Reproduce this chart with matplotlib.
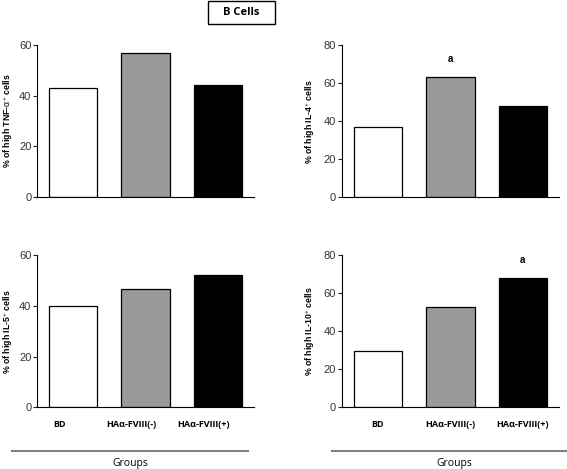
import numpy as np
import matplotlib.pyplot as plt
import matplotlib.transforms as mtransforms
from matplotlib.patches import Rectangle

groups = ["BD", "HA\u03b1-FVIII(-)", "HA\u03b1-FVIII(+)"]
colors = ["white", "#9a9a9a", "black"]

tnf = [43.1, 56.7, 44.1]
il4 = [36.8, 63.3, 48.1]
il5 = [39.8, 46.6, 52.0]
il10 = [29.8, 52.9, 67.8]

ylabels = [r"% of high TNF-$\alpha^{+}$ cells", r"% of high IL-4$^{+}$ cells",
           r"% of high IL-5$^{+}$ cells", r"% of high IL-10$^{+}$ cells"]
ymax = [60, 80, 60, 80]
# significance marks: (panel, bar index)
sig = {1: 1, 3: 2}

plt.rcParams['font.family'] = ['Liberation Sans', 'DejaVu Sans']
plt.rcParams['mathtext.fontset'] = 'custom'
plt.rcParams['mathtext.rm'] = 'Liberation Sans'
plt.rcParams['mathtext.it'] = 'Liberation Sans'
plt.rcParams['mathtext.bf'] = 'Liberation Sans:bold'

fig = plt.figure(figsize=(5.67, 4.69), dpi=100)

W, H = 567.0, 469.0
boxes = [(37, 197, 254, 45), (341.7, 197.3, 559, 45),
         (37, 407.3, 254, 255), (341.7, 407.3, 559, 255)]
data = [tnf, il4, il5, il10]

x = np.arange(len(groups))
for i, (l, b, r, t) in enumerate(boxes):
    ax = fig.add_axes([l / W, 1 - b / H, (r - l) / W, (b - t) / H])
    ax.bar(x, data[i], width=0.667, color=colors, edgecolor="black", linewidth=0.9)
    ax.set_xlim(-0.5, 2.5)
    ax.set_ylim(0, ymax[i])
    ax.set_yticks(np.arange(0, ymax[i] + 1, 20))
    ax.spines['top'].set_visible(False)
    ax.spines['right'].set_visible(False)
    ax.spines['left'].set_linewidth(0.8)
    ax.spines['bottom'].set_linewidth(0.8)
    ax.tick_params(axis='y', length=3, width=0.8, labelsize=8, pad=1,
                   colors="#222222", labelcolor="#333333")
    ax.set_ylabel(ylabels[i], fontsize=6.3, fontweight='bold', labelpad=3 if i % 2 == 0 else 5)
    if i in sig:
        j = sig[i]
        ax.text(x[j], data[i][j] + ymax[i] * 0.12, "a", ha='center', va='center',
                fontsize=7, fontweight='bold')
    if i >= 2:
        ax.set_xticks(x)
        ax.set_xticklabels(groups, fontsize=6.5, fontweight='bold', family=['Open Sans', 'DejaVu Sans'])
        ax.tick_params(axis='x', length=0, pad=9)
        if i == 2:
            off = mtransforms.ScaledTranslation(-14 / 100, 0, fig.dpi_scale_trans)
            for lab in ax.get_xticklabels():
                lab.set_transform(lab.get_transform() + off)
    else:
        ax.set_xticks([])

# group lines and labels
fig.add_artist(plt.Line2D([12 / W, 248 / W], [1 - 450.7 / H] * 2, color="#808080", linewidth=1.5))
fig.add_artist(plt.Line2D([332 / W, 1.0], [1 - 450.7 / H] * 2, color="#808080", linewidth=1.5))
fig.text(130 / W, 1 - 463 / H, "Groups", ha='center', va='center', fontsize=7.5, family=['Open Sans', 'DejaVu Sans'])
fig.text(454 / W, 1 - 463 / H, "Groups", ha='center', va='center', fontsize=7.5, family=['Open Sans', 'DejaVu Sans'])

fig.add_artist(Rectangle((207.5 / W, 1 - 24 / H), 67.5 / W, 23 / H, transform=fig.transFigure,
                         facecolor='white', edgecolor='black', linewidth=1.0))
fig.text(241 / W, 1 - 12.5 / H, "B Cells", ha='center', va='center', fontsize=8, fontweight='bold',
         family=['Open Sans', 'DejaVu Sans'])

fig.savefig("out.png", dpi=100)
